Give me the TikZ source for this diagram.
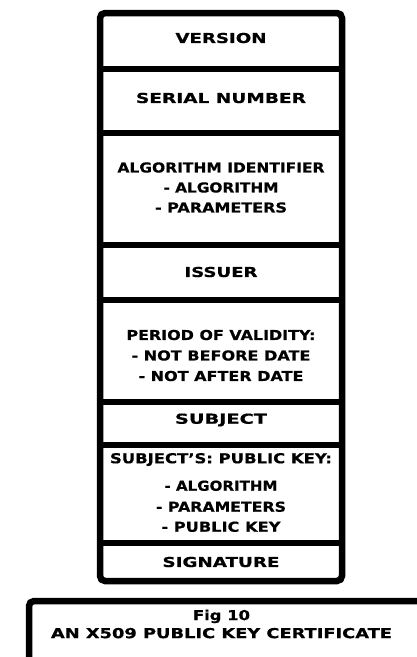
\documentclass[tikz,border=0pt]{standalone}
\usepackage{fontspec}
\setmainfont{DejaVu Sans}[BoldFeatures={FakeBold=0.6}]
\usepackage{graphicx}
\newcommand{\tl}[2]{\resizebox{#1pt}{\height}{#2}}
\tikzset{
  frame/.style={line width=6.5pt, rounded corners=5pt},
  divider/.style={line width=6pt},
  field/.style={font=\bfseries\fontsize{13.7}{20}\selectfont, align=center, inner sep=0pt},
  captext/.style={font=\bfseries\fontsize{13.7}{18}\selectfont, align=center, inner sep=0pt}
}
\begin{document}
\begin{tikzpicture}[x=1pt, y=-1pt]
\useasboundingbox (0,0) rectangle (416,657);
% outer frame
\draw[frame] (100,13) rectangle (342,581);
% dividers
\foreach \yy in {69,133,245,300,402,445,543}
  \draw[divider] (100,\yy) -- (342,\yy);
% fields
\node[field] (version) at (221,38) {\tl{91}{VERSION}};
\node[field] (serial) at (221,98) {\tl{170}{SERIAL NUMBER}};
\node[field] (algid) at (221,187.5) {\tl{207}{ALGORITHM IDENTIFIER}\\ \tl{115}{- ALGORITHM}\\ \tl{132}{- PARAMETERS}};
\node[field] (issuer) at (221,272) {\tl{73}{ISSUER}};
\node[field] (validity) at (221,355.5) {\tl{189}{PERIOD OF VALIDITY:}\\[0.5pt] \tl{179}{- NOT BEFORE DATE}\\[0.5pt] \tl{165}{- NOT AFTER DATE}};
\node[field] (subject) at (221,420) {\tl{92}{SUBJECT}};
\node[field] (pubkey) at (221,492.5) {\tl{222}{SUBJECT'S: PUBLIC KEY:}\\[7.5pt] \tl{113}{- ALGORITHM}\\[1pt] \tl{130}{- PARAMETERS}\\ \tl{119}{- PUBLIC KEY}};
\node[field] (signature) at (221,562) {\tl{117}{SIGNATURE}};
% caption box (open to the right and bottom)
\draw[frame] (29,670) -- (29,601) -- (430,601);
\node[captext] (caption) at (221.5,624) {\tl{57}{Fig 10}\\ \tl{341}{AN X509 PUBLIC KEY CERTIFICATE}};
\end{tikzpicture}
\end{document}
